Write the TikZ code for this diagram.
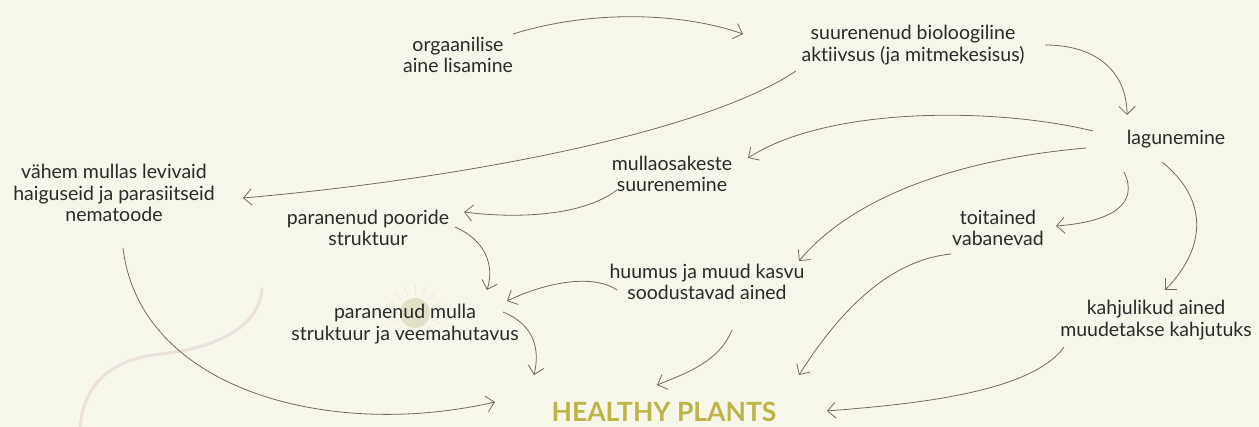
\documentclass[tikz,border=0pt]{standalone}
\usepackage{fontspec}
\setmainfont{Lato}[Ligatures={NoCommon}]
\usetikzlibrary{arrows.meta}
\definecolor{bgc}{HTML}{F7F6EB}
\definecolor{txt}{HTML}{2A2A2A}
\definecolor{arr}{HTML}{75695A}
\definecolor{olive}{HTML}{BDB547}
\definecolor{pinkish}{HTML}{EBE0DC}
\definecolor{sunc}{HTML}{E2E0C9}
\tikzset{
  lbl/.style={align=center, inner sep=0pt, text=txt, font=\fontsize{19.5}{21.5}\selectfont},
  conn/.style={draw=arr, line width=0.8pt, -{Straight Barb[length=8pt,width=16pt]}},
}
\begin{document}
\begin{tikzpicture}[x=1pt,y=-1pt]
\fill[bgc] (0,0) rectangle (1259,427);
\useasboundingbox (0,0) rectangle (1259,427);
% decorations
\draw[pinkish, line width=3pt, line cap=round] (262,289) .. controls (258,335) and (200,350) .. (160,354) .. controls (105,360) and (82,390) .. (80,430);
\foreach \a in {0,22.5,...,359} {\draw[sunc!70, line width=0.6pt] (415,313) ++(\a:18) -- ++(\a:10);}
\fill[sunc] (415,313) circle (15);
% nodes
\node[lbl] (org) at (458,55) {orgaanilise\\aine lisamine};
\node[lbl] (bio) at (913,45) {suurenenud bioloogiline\\aktiivsus (ja mitmekesisus)};
\node[lbl] (lag) at (1176,139) {lagunemine};
\node[lbl] (mos) at (672,174) {mullaosakeste\\suurenemine};
\node[lbl] (vah) at (114,193) {vähem mullas levivaid\\haiguseid ja parasiitseid\\nematoode};
\node[lbl] (poo) at (368,228) {paranenud pooride\\struktuur};
\node[lbl] (toi) at (998,228) {toitained\\vabanevad};
\node[lbl] (huu) at (707,282) {huumus ja muud kasvu\\soodustavad ained};
\node[lbl] (mul) at (405,324) {paranenud mulla\\struktuur ja veemahutavus};
\node[lbl] (kah) at (1156,320) {kahjulikud ained\\muudetakse kahjutuks};
\node[inner sep=0pt, text=olive, font=\fontsize{26.5}{30}\selectfont\bfseries] (hp) at (664,412) {HEALTHY PLANTS};
% connectors
\draw[conn] ([shift={(55,-21)}]org.center) .. controls (590,10) and (680,12) .. ([shift={(-170,-11)}]bio.center);
\draw[conn] ([shift={(132,0)}]bio.center) .. controls (1100,45) and (1127,75) .. ([shift={(-49,-24)}]lag.center);
\draw[conn] ([shift={(-117,26)}]bio.center) .. controls (700,135) and (450,180) .. ([shift={(129,5)}]vah.center);
\draw[conn] ([shift={(-83,-8)}]lag.center) .. controls (1000,108) and (830,105) .. ([shift={(76,-16)}]mos.center);
\draw[conn] ([shift={(-90,9)}]lag.center) .. controls (950,160) and (850,200) .. ([shift={(92,-21)}]huu.center);
\draw[conn] ([shift={(-52,33)}]lag.center) .. controls (1140,205) and (1110,222) .. ([shift={(58,-2)}]toi.center);
\draw[conn] ([shift={(-14,23)}]lag.center) .. controls (1215,205) and (1200,255) .. ([shift={(9,-30)}]kah.center);
\draw[conn] ([shift={(-55,16)}]mos.center) .. controls (580,218) and (510,218) .. ([shift={(96,-16)}]poo.center);
\draw[conn] ([shift={(87,-1)}]poo.center) .. controls (485,240) and (495,265) .. ([shift={(82,-34)}]mul.center);
\draw[conn] ([shift={(-90,8)}]huu.center) .. controls (590,272) and (540,285) .. ([shift={(102,-23)}]mul.center);
\draw[conn] ([shift={(98,-12)}]mul.center) .. controls (535,325) and (540,350) .. ([shift={(-130,-37)}]hp.center);
\draw[conn] ([shift={(9,55)}]vah.center) .. controls (140,390) and (330,440) .. ([shift={(-169,-10)}]hp.center);
\draw[conn] ([shift={(25,48)}]huu.center) .. controls (720,360) and (690,372) .. ([shift={(-7,-27)}]hp.center);
\draw[conn] ([shift={(-47,26)}]toi.center) .. controls (890,260) and (840,310) .. ([shift={(135,-37)}]hp.center);
\draw[conn] ([shift={(-92,27)}]kah.center) .. controls (1030,395) and (900,405) .. ([shift={(163,-1)}]hp.center);
\end{tikzpicture}
\end{document}
